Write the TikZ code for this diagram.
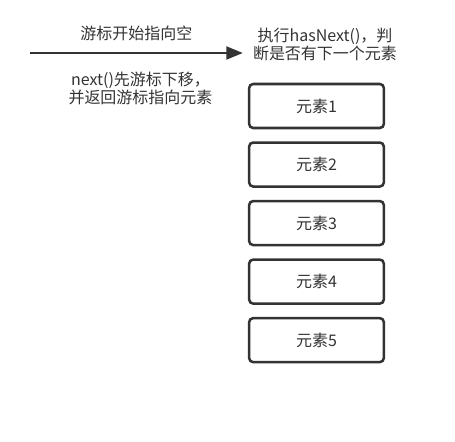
\documentclass[tikz,border=0pt]{standalone}
\usepackage{fontspec}
\setmainfont{Noto Sans CJK SC}
\usetikzlibrary{arrows.meta, positioning}
\definecolor{ink}{HTML}{333333}

\begin{document}
\begin{tikzpicture}[
  x=0.75pt, y=-0.75pt,
  node distance=9pt,
  elem/.style={draw=ink, line width=1.9pt, rounded corners=3pt, text=ink,
               minimum width=101pt, minimum height=33pt,
               font=\fontsize{12}{13.5}\selectfont},
  flow/.style={-{Triangle[length=12.5pt, width=9.5pt]}, line width=2.2pt, draw=ink},
  lab/.style={align=center, text=ink, font=\fontsize{12}{13.5}\selectfont}
]
\useasboundingbox (0,0) rectangle (455,442);

% the list of elements
\node[elem] (e1) at (316.5,106) {元素1};
\node[elem, below=of e1] (e2) {元素2};
\node[elem, below=of e2] (e3) {元素3};
\node[elem, below=of e3] (e4) {元素4};
\node[elem, below=of e4] (e5) {元素5};

\node[lab] (check) at (325,44) {执行hasNext()，判\\断是否有下一个元素};

% cursor arrow, free end stops short of the check text
\coordinate (start) at (30,53);
\coordinate (tip) at (243,53);
\draw[flow] (start) -- node[lab, above=5pt] (init) {游标开始指向空}
                       node[lab, below=10pt, xshift=3pt] (move) {next()先游标下移，\\并返回游标指向元素} (tip);

\end{tikzpicture}
\end{document}
